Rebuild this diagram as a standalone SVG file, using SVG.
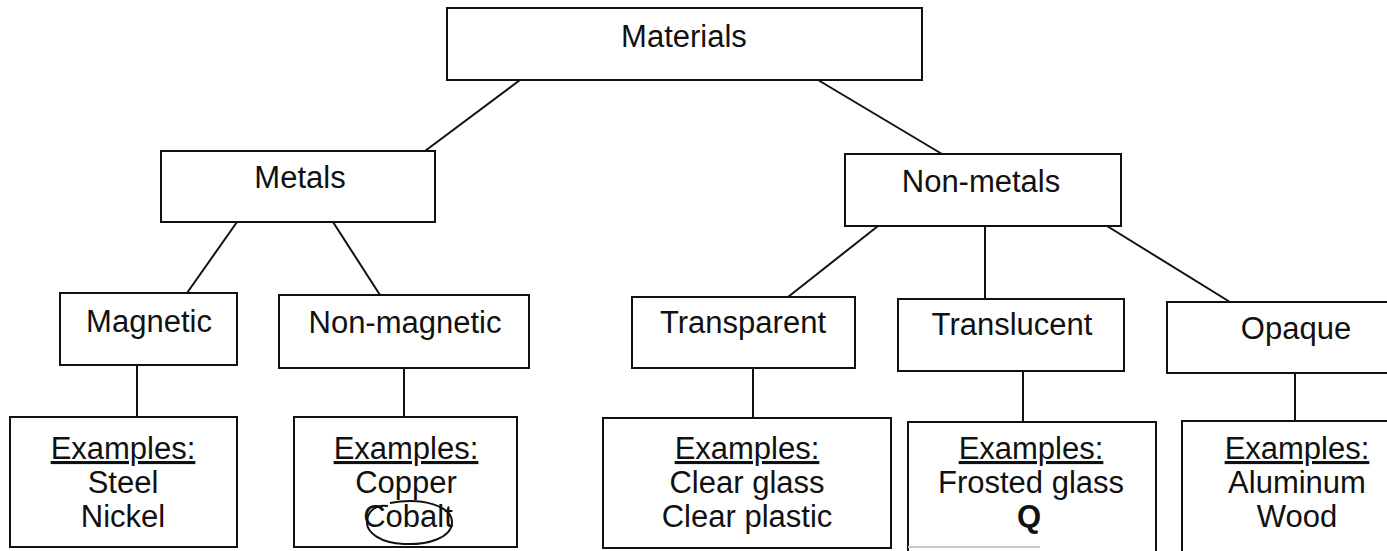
<svg xmlns="http://www.w3.org/2000/svg" width="1387" height="551" viewBox="0 0 1387 551">
  <style>
    .box { fill: #ffffff; stroke: #111111; stroke-width: 2; }
    .link { stroke: #111111; stroke-width: 2; fill: none; }
    text { font-family: "Liberation Sans", Arial, sans-serif; font-size: 31px; fill: #111111; text-anchor: middle; }
    .ul { text-decoration: underline; }
    .bold { font-weight: bold; }
  </style>
  <rect x="0" y="0" width="1387" height="551" fill="#ffffff"/>

  <!-- tree connectors -->
  <g id="connectors">
    <line class="link" x1="520" y1="80" x2="425" y2="151"/>
    <line class="link" x1="818" y1="80" x2="942" y2="154"/>
    <line class="link" x1="237" y1="222" x2="187" y2="293"/>
    <line class="link" x1="333" y1="222" x2="380" y2="295"/>
    <line class="link" x1="878" y1="226" x2="788" y2="297"/>
    <line class="link" x1="985" y1="226" x2="985" y2="299"/>
    <line class="link" x1="1107" y1="226" x2="1230" y2="302"/>
    <line class="link" x1="137" y1="365" x2="137" y2="417"/>
    <line class="link" x1="404" y1="368" x2="404" y2="417"/>
    <line class="link" x1="753" y1="368" x2="753" y2="418"/>
    <line class="link" x1="1023" y1="371" x2="1023" y2="422"/>
    <line class="link" x1="1295" y1="373" x2="1295" y2="421"/>
  </g>

  <g id="materials">
    <rect class="box" x="447" y="8" width="475" height="72"/>
    <text x="684" y="47">Materials</text>
  </g>

  <g id="metals">
    <rect class="box" x="161" y="151" width="274" height="71"/>
    <text x="300" y="188">Metals</text>
  </g>

  <g id="non-metals">
    <rect class="box" x="845" y="154" width="276" height="72"/>
    <text x="981" y="192">Non-metals</text>
  </g>

  <g id="magnetic">
    <rect class="box" x="60" y="293" width="177" height="72"/>
    <text x="149" y="332">Magnetic</text>
  </g>

  <g id="non-magnetic">
    <rect class="box" x="279" y="295" width="250" height="73"/>
    <text x="405" y="333">Non-magnetic</text>
  </g>

  <g id="transparent">
    <rect class="box" x="632" y="297" width="223" height="71"/>
    <text x="743" y="333">Transparent</text>
  </g>

  <g id="translucent">
    <rect class="box" x="898" y="299" width="226" height="72"/>
    <text x="1012" y="335">Translucent</text>
  </g>

  <g id="opaque">
    <rect class="box" x="1167" y="302" width="240" height="71"/>
    <text x="1296" y="339">Opaque</text>
  </g>

  <g id="magnetic-examples">
    <rect class="box" x="10" y="417" width="227" height="130"/>
    <text class="ul" x="123" y="459">Examples:</text>
    <text x="123" y="493">Steel</text>
    <text x="123" y="527">Nickel</text>
  </g>

  <g id="non-magnetic-examples">
    <rect class="box" x="294" y="417" width="223" height="130"/>
    <text class="ul" x="406" y="459">Examples:</text>
    <text x="406" y="493">Copper</text>
    <text x="408" y="527">Cobalt</text>
    <!-- pen ring drawn round "Cobalt" -->
    <path class="link" stroke-width="1.6" d="M 390 503 C 422 497, 453 506, 452 523 C 451 538, 428 545, 404 544 C 381 543, 366 533, 367 521 C 368 511, 376 504, 388 506"/>
  </g>

  <g id="transparent-examples">
    <rect class="box" x="603" y="418" width="288" height="130"/>
    <text class="ul" x="747" y="459">Examples:</text>
    <text x="747" y="493">Clear glass</text>
    <text x="747" y="527">Clear plastic</text>
  </g>

  <g id="translucent-examples">
    <rect class="box" x="908" y="422" width="248" height="132"/>
    <line x1="908" y1="547" x2="1040" y2="547" stroke="#c8c8c8" stroke-width="2"/>
    <text class="ul" x="1031" y="459">Examples:</text>
    <text x="1031" y="493">Frosted glass</text>
    <text class="bold" x="1029" y="527">Q</text>
  </g>

  <g id="opaque-examples">
    <rect class="box" x="1182" y="421" width="230" height="133"/>
    <text class="ul" x="1297" y="459">Examples:</text>
    <text x="1297" y="493">Aluminum</text>
    <text x="1297" y="527">Wood</text>
  </g>
</svg>
